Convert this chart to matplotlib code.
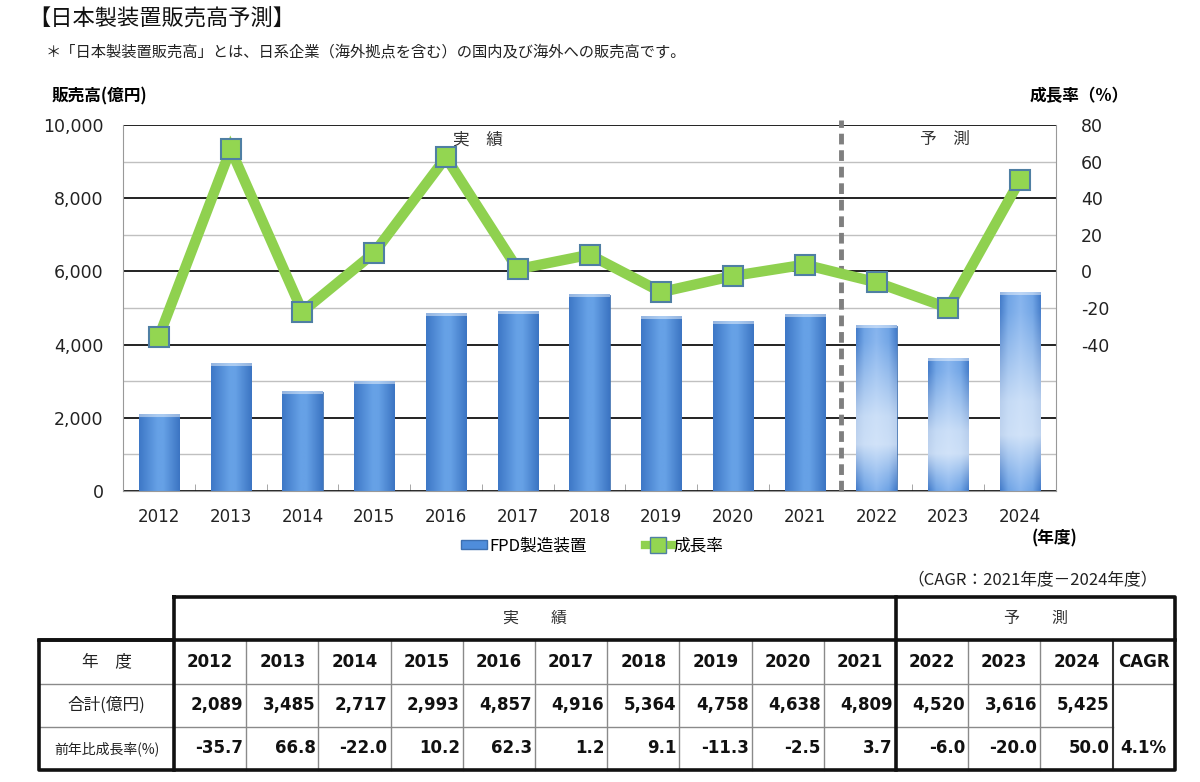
import numpy as np
import matplotlib
matplotlib.use("Agg")
import matplotlib.pyplot as plt
from matplotlib.ticker import MultipleLocator, FixedLocator
from matplotlib.patches import Patch
from matplotlib.lines import Line2D
from matplotlib.colors import to_rgb

plt.rcParams['font.family'] = ['Noto Sans CJK JP', 'DejaVu Sans']
plt.rcParams['axes.unicode_minus'] = False

years = [2012, 2013, 2014, 2015, 2016, 2017, 2018, 2019, 2020, 2021, 2022, 2023, 2024]
sales = [2089, 3485, 2717, 2993, 4857, 4916, 5364, 4758, 4638, 4809, 4520, 3616, 5425]
growth = [-35.7, 66.8, -22.0, 10.2, 62.3, 1.2, 9.1, -11.3, -2.5, 3.7, -6.0, -20.0, 50.0]
n_actual = 10          # 2012-2021 実績, rest 予測
cagr = "4.1%"

W, H = 1200, 782
fig = plt.figure(figsize=(W / 100, H / 100), dpi=100)

def fx(px):
    return px / W

def fy(py):
    return 1 - py / H

fig.text(fx(28), fy(18), "【日本製装置販売高予測】", fontsize=16, va='center', ha='left', color='#111')
fig.text(fx(46), fy(52), "＊「日本製装置販売高」とは、日系企業（海外拠点を含む）の国内及び海外への販売高です。",
         fontsize=11, va='center', ha='left', color='#222')
fig.text(fx(52), fy(96), "販売高(億円)", fontsize=12, fontweight='bold', va='center', ha='left')
fig.text(fx(1030), fy(96), "成長率（%）", fontsize=12, fontweight='bold', va='center', ha='left')
fig.text(fx(1032), fy(538), "(年度)", fontsize=12, fontweight='bold', va='center', ha='left')

# ---- chart ----
plot_h = 491 - 125
ax = fig.add_axes([fx(123), fy(491), fx(1056 - 123), plot_h / H])
x = np.arange(len(years))
bars = ax.bar(x, sales, width=0.56, color='none', edgecolor='#3d6fb0', linewidth=0.6, zorder=2)
ax.set_xlim(-0.5, len(years) - 0.5)
ax.set_ylim(0, 10000)


def grad(stops, n=200):
    pos = np.linspace(0, 1, n)
    cols = np.array([to_rgb(c) for _, c in stops])
    ps = [p for p, _ in stops]
    return np.stack([np.interp(pos, ps, cols[:, k]) for k in range(3)], axis=-1)


horiz_actual = grad([(0, '#3d77c6'), (0.45, '#66a1e6'), (0.6, '#66a1e6'), (1, '#3b74c2')])
horiz_fc = grad([(0, '#4079c8'), (0.2, '#6ea3e5'), (0.5, '#86b4ee'), (0.8, '#6ea3e5'), (1, '#4079c8')])

for i, b in enumerate(bars):
    x0, w, h = b.get_x(), b.get_width(), b.get_height()
    rows = max(int(round(h / 10000 * plot_h)), 4)
    if i < n_actual:
        img = np.repeat(horiz_actual[None, :, :], rows, axis=0)
    else:
        base = np.repeat(horiz_fc[None, :, :], rows, axis=0)
        tt = np.interp(np.linspace(0, 1, rows), [0, 0.1, 0.55, 0.72, 0.9, 1],
                       [0.0, 0.05, 0.7, 0.75, 0.25, 0.0])[:, None, None]
        img = base * (1 - tt) + np.array(to_rgb('#eaf2fc'))[None, None, :] * tt
    img[:3] = img[:3] * 0.55 + 0.45   # light cap
    ax.imshow(img, extent=[x0, x0 + w, 0, h], aspect='auto', zorder=2.5, origin='upper',
              interpolation='bilinear')

ax.set_xlim(-0.5, len(years) - 0.5)
ax.set_ylim(0, 10000)
ax.set_axisbelow(True)
ax.yaxis.set_major_locator(MultipleLocator(2000))
ax.yaxis.set_minor_locator(MultipleLocator(1000))
ax.grid(axis='y', which='major', color='#111', linewidth=1.3, zorder=0)
ax.grid(axis='y', which='minor', color='#c0c0c0', linewidth=1.0, zorder=0)
ax.set_yticks(range(0, 10001, 2000))
ax.set_yticklabels([f"{v:,}" for v in range(0, 10001, 2000)], fontfamily='DejaVu Sans', fontsize=12.5, color='#222')
ax.tick_params(axis='y', which='both', length=0, pad=14)
ax.set_xticks(x)
ax.set_xticklabels([str(y) for y in years], fontfamily='DejaVu Sans', fontsize=12, color='#222')
ax.xaxis.set_minor_locator(FixedLocator(np.arange(-0.5, len(years), 1)))
ax.tick_params(axis='x', which='major', length=0, pad=12)
ax.tick_params(axis='x', which='minor', direction='in', length=5, color='#999')
for s in ['left', 'right', 'bottom']:
    ax.spines[s].set_color('#999')
ax.spines['top'].set_visible(False)

ax.axvline(n_actual - 0.5, ymin=0, ymax=1.015, color='#7f7f7f', linewidth=3.5,
           linestyle=(0, (2.2, 1.2)), clip_on=False, zorder=3)

ax2 = ax.twinx()
ax2.set_ylim(-120, 80)
ax2.set_yticks(range(-40, 81, 20))
ax2.set_yticklabels([str(v) for v in range(-40, 81, 20)], fontfamily='DejaVu Sans', fontsize=12.5, color='#222')
ax2.tick_params(axis='y', length=0, pad=18)
for s in ax2.spines.values():
    s.set_visible(False)
ax2.plot(x, growth, color='#8fd14f', linewidth=7.5, marker='s', markersize=14,
         markerfacecolor='#93d651', markeredgecolor='#4f7fa3', markeredgewidth=1.5,
         solid_joinstyle='miter', zorder=5)

ax.text((n_actual - 1) / 2 - 0.05, 9600, "実　績", ha='center', va='center', fontsize=12, color='#333', zorder=6)
ax.text((n_actual + len(years) - 1) / 2 - 0.05, 9600, "予　測", ha='center', va='center', fontsize=12, color='#333', zorder=6)

handles = [Patch(facecolor='#4f8ddb', edgecolor='#3d6fb0'),
           Line2D([], [], color='#8fd14f', linewidth=6, marker='s', markersize=11,
                  markerfacecolor='#93d651', markeredgecolor='#4f7fa3')]
fig.legend(handles, ["FPD製造装置", "成長率"], loc='center', bbox_to_anchor=(fx(592), fy(546)),
           ncol=2, frameon=False, fontsize=12, handlelength=1.6, handleheight=0.5,
           columnspacing=3.5, handletextpad=0.1)

fig.text(fx(1158), fy(581), "（CAGR：2021年度－2024年度）", fontsize=12, ha='right', va='center', color='#222')

# ---- table ----
tax = fig.add_axes([fx(39), fy(770), fx(1175 - 39), (770 - 597) / H])
tax.set_xlim(0, 1136)
tax.set_ylim(4, 0)
tax.axis('off')

col0 = 135
colw = 72.2
edges = [0, col0] + [col0 + colw * (i + 1) for i in range(len(years))] + [1136]
right = edges[-1]
split = edges[1 + n_actual]
cagr_l = edges[-2]

thin = dict(color='#8a8a8a', linewidth=1.0)
thick = dict(color='#111', linewidth=2.6, solid_capstyle='projecting')

for r in [2, 3]:
    xe = cagr_l if r == 3 else right
    tax.plot([0, xe], [r, r], **thin)
for e in edges[2:-2]:
    if e != split:
        tax.plot([e, e], [1, 4], **thin)
tax.plot([cagr_l, cagr_l], [1, 4], color='#333', linewidth=1.5)

tax.plot([col0, right, right, 0, 0, col0, col0], [0, 0, 4, 4, 1, 1, 0], **thick)
tax.plot([0, right], [1, 1], **thick)
tax.plot([col0, col0], [1, 4], **thick)
tax.plot([split, split], [0, 4], **thick)
for l in tax.lines:
    l.set_clip_on(False)

tax.text((col0 + split) / 2, 0.5, "実　　績", ha='center', va='center', fontsize=11.5, color='#333')
tax.text((split + right) / 2, 0.5, "予　　測", ha='center', va='center', fontsize=11.5, color='#333')
tax.text(col0 / 2, 1.5, "年　度", ha='center', va='center', fontsize=12, color='#222')
tax.text(col0 / 2, 2.5, "合計(億円)", ha='center', va='center', fontsize=12, color='#222')
tax.text(col0 / 2, 3.5, "前年比成長率(%)", ha='center', va='center', fontsize=10, color='#222')

for i, y in enumerate(years):
    l, r = edges[1 + i], edges[2 + i]
    tax.text((l + r) / 2, 1.5, str(y), ha='center', va='center', fontsize=12,
             fontweight='bold', fontfamily='DejaVu Sans', color='#111')
    tax.text(r - 3, 2.5, f"{sales[i]:,}", ha='right', va='center', fontsize=12,
             fontweight='bold', fontfamily='DejaVu Sans', color='#111')
    tax.text(r - 3, 3.5, f"{growth[i]:.1f}", ha='right', va='center', fontsize=12,
             fontweight='bold', fontfamily='DejaVu Sans', color='#111')
tax.text((cagr_l + right) / 2, 1.5, "CAGR", ha='center', va='center', fontsize=12,
         fontweight='bold', fontfamily='DejaVu Sans', color='#111')
tax.text((cagr_l + right) / 2, 3.5, cagr, ha='center', va='center', fontsize=12,
         fontweight='bold', fontfamily='DejaVu Sans', color='#111')

fig.savefig("out.png", dpi=100)
